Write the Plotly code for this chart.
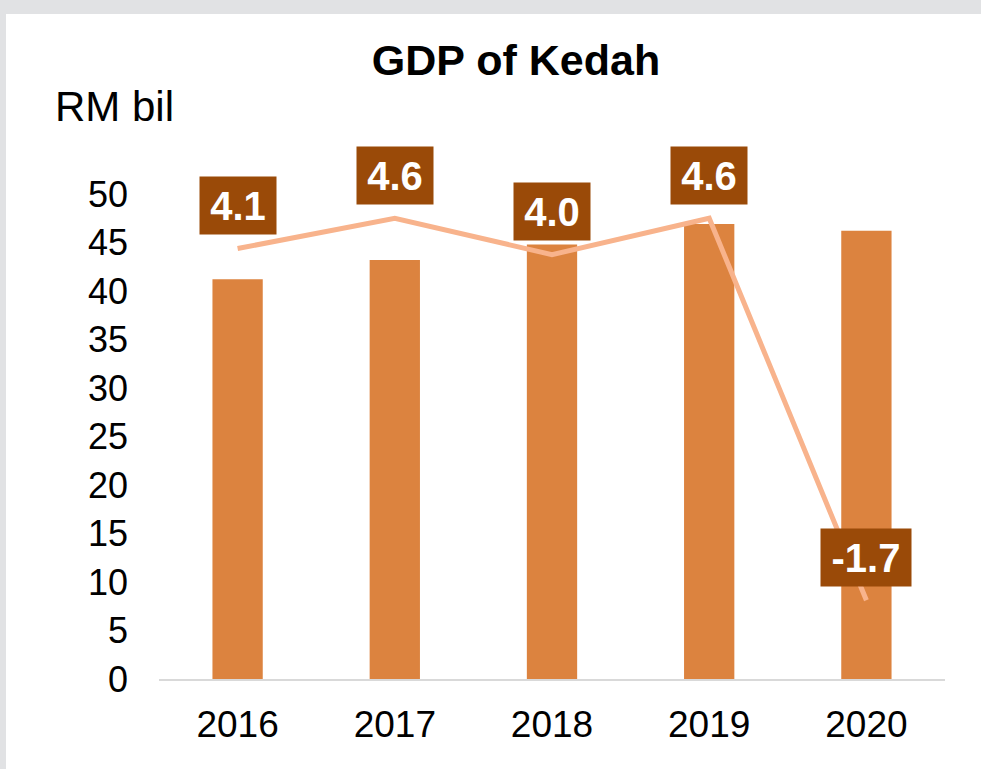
import plotly.graph_objects as go

years = ["2016", "2017", "2018", "2019", "2020"]
gdp_rm_bil = [41.2, 43.2, 44.8, 46.9, 46.2]
growth_pct = [4.1, 4.6, 4.0, 4.6, -1.7]
growth_labels = ["4.1", "4.6", "4.0", "4.6", "-1.7"]
y_ticks = list(range(0, 55, 5))

W, H = 981, 769
ML, MR, MT, MB = 159, 36, 194, 90
PW, PH = W - ML - MR, H - MT - MB

def px_x(px):
    return (px - ML) / PW

def px_y(py):
    return (H - MB - py) / PH

FONT = "Liberation Sans, Arial, sans-serif"

fig = go.Figure()
fig.add_trace(go.Bar(x=years, y=gdp_rm_bil, marker=dict(color="#DC833F", line=dict(width=0)),
                     width=0.32, yaxis="y", showlegend=False, hoverinfo="skip"))
fig.add_trace(go.Scatter(x=years, y=growth_pct, mode="lines", yaxis="y2",
                         line=dict(color="#F8B38C", width=5), showlegend=False, hoverinfo="skip"))

# category index positions (annotation x on a category axis uses the serial index)
for i, (g, lab) in enumerate(zip(growth_pct, growth_labels)):
    fig.add_annotation(x=i, y=g, xref="x", yref="y2", text="<b>" + lab + "</b>",
                       showarrow=False, yshift=43, bgcolor="#9A4A08",
                       font=dict(family=FONT, size=40, color="white"),
                       borderpad=3, width=14 * len(lab) + 28, height=51)

fig.add_annotation(x=px_x(53), y=px_y(107), xref="paper", yref="paper", text="RM bil",
                   showarrow=False, xanchor="left", yanchor="middle",
                   font=dict(family=FONT, size=42, color="black"))

fig.add_shape(type="rect", xref="paper", yref="paper", x0=px_x(6), x1=px_x(W + 5),
              y0=px_y(H + 5), y1=px_y(14), fillcolor="white", line=dict(width=0), layer="below")

fig.update_layout(
    width=W, height=H,
    margin=dict(l=ML, r=MR, t=MT, b=MB, pad=0),
    paper_bgcolor="#E1E2E4", plot_bgcolor="white",
    title=dict(text="<b>GDP of Kedah</b>", x=516 / W, xanchor="center", y=1 - 60 / H, yanchor="middle",
               font=dict(family=FONT, size=43, color="black")),
    xaxis=dict(type="category", range=[-0.5, 4.5], showline=True, linecolor="#D9D9D9", linewidth=2,
               showgrid=False, zeroline=False, ticks="", ticklabelstandoff=12,
               tickfont=dict(family=FONT, size=37, color="black")),
    yaxis=dict(range=[0, 50], tickvals=y_ticks, showgrid=False, zeroline=False, showline=False,
               ticks="", ticklabelstandoff=30, tickfont=dict(family=FONT, size=36, color="black")),
    yaxis2=dict(range=[-3, 5], overlaying="y", side="right", showgrid=False, zeroline=False,
                showline=False, showticklabels=False, ticks=""),
)

fig.write_html("out.html", config={"displayModeBar": False},
               post_script="document.body.style.margin='0';document.body.style.background='#E1E2E4';")
